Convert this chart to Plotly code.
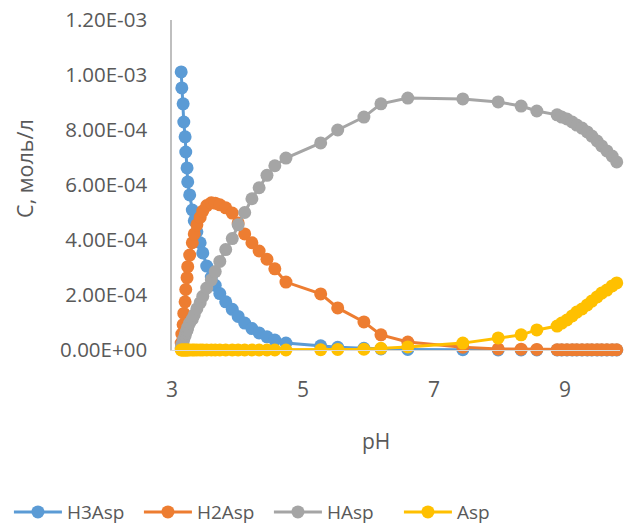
import plotly.graph_objects as go

# pH of each titration point (shared by all series)
pH = [3.14, 3.15, 3.17, 3.18, 3.20, 3.21, 3.23, 3.24, 3.27, 3.31,
      3.34, 3.38, 3.43, 3.47, 3.53, 3.60, 3.66, 3.73, 3.82, 3.92,
      4.01, 4.11, 4.22, 4.33, 4.45, 4.57, 4.74, 5.27, 5.53, 5.93,
      6.19, 6.60, 7.44, 7.98, 8.33, 8.57, 8.88, 8.95, 9.03, 9.11,
      9.18, 9.26, 9.34, 9.41, 9.49, 9.56, 9.64, 9.72, 9.79]

# concentrations in units of 1e-3 mol/L
H3Asp = [1.011, 0.953, 0.895, 0.829, 0.775, 0.720, 0.662, 0.611, 0.564, 0.509,
         0.470, 0.430, 0.390, 0.353, 0.305, 0.265, 0.235, 0.205, 0.175, 0.148,
         0.122, 0.098, 0.078, 0.062, 0.048, 0.036, 0.025, 0.015, 0.010, 0.006,
         0.004, 0.002, 0.001, 0.000, 0.000, 0.000, 0.000, 0.000, 0.000, 0.000,
         0.000, 0.000, 0.000, 0.000, 0.000, 0.000, 0.000, 0.000, 0.000]
H2Asp = [0.025, 0.058, 0.092, 0.133, 0.175, 0.220, 0.263, 0.303, 0.345, 0.390,
         0.422, 0.455, 0.482, 0.505, 0.525, 0.535, 0.534, 0.528, 0.517, 0.498,
         0.462, 0.422, 0.390, 0.360, 0.330, 0.295, 0.247, 0.204, 0.153, 0.102,
         0.055, 0.029, 0.010, 0.004, 0.003, 0.002, 0.001, 0.001, 0.001, 0.001,
         0.001, 0.001, 0.001, 0.001, 0.001, 0.001, 0.001, 0.001, 0.001]
HAsp = [0.008, 0.020, 0.030, 0.040, 0.052, 0.062, 0.072, 0.082, 0.098, 0.112,
        0.128, 0.150, 0.172, 0.195, 0.225, 0.255, 0.285, 0.322, 0.365, 0.405,
        0.455, 0.500, 0.550, 0.590, 0.635, 0.670, 0.698, 0.753, 0.800, 0.847,
        0.895, 0.916, 0.913, 0.902, 0.887, 0.869, 0.855, 0.847, 0.840, 0.829,
        0.818, 0.807, 0.793, 0.778, 0.760, 0.742, 0.724, 0.705, 0.684]
Asp = [0.000, 0.000, 0.000, 0.000, 0.000, 0.000, 0.000, 0.000, 0.000, 0.000,
       0.000, 0.000, 0.000, 0.000, 0.000, 0.000, 0.000, 0.000, 0.000, 0.000,
       0.000, 0.000, 0.000, 0.000, 0.000, 0.000, 0.000, 0.001, 0.002, 0.003,
       0.006, 0.011, 0.025, 0.044, 0.055, 0.073, 0.087, 0.098, 0.109, 0.124,
       0.138, 0.149, 0.164, 0.178, 0.193, 0.207, 0.218, 0.233, 0.244]
UNIT = 1e-3

series_names = ["H3Asp", "H2Asp", "HAsp", "Asp"]
series_values = [H3Asp, H2Asp, HAsp, Asp]
colors = ["#5B9BD5", "#ED7D31", "#A5A5A5", "#FFC000"]

x_ticks = [3, 5, 7, 9]
y_ticks = [0, 2e-4, 4e-4, 6e-4, 8e-4, 1e-3, 1.2e-3]
y_tick_labels = ["0.00E+00", "2.00E-04", "4.00E-04", "6.00E-04",
                 "8.00E-04", "1.00E-03", "1.20E-03"]

FONT = "Open Sans"
TXT = "#595959"

fig = go.Figure()
for name, vals, col in zip(series_names, series_values, colors):
    fig.add_trace(go.Scatter(
        x=pH, y=[v * UNIT for v in vals], name=name, mode="lines+markers",
        line=dict(color=col, width=3),
        marker=dict(color=col, size=13),
        cliponaxis=False,
    ))

fig.update_layout(
    width=625, height=528, autosize=False,
    margin=dict(l=172, r=5, t=20, b=178, autoexpand=False),
    paper_bgcolor="white", plot_bgcolor="white",
    font=dict(family=FONT, size=20, color=TXT),
    showlegend=True,
    legend=dict(orientation="h", xref="paper", yref="paper",
                x=-0.364, xanchor="left", y=-0.491, yanchor="middle",
                font=dict(family=FONT, size=19, color=TXT), itemwidth=48,
                entrywidth=67, entrywidthmode="pixels",
                traceorder="normal"),
    xaxis=dict(range=[3, 9.84], tickvals=x_ticks, showgrid=False, zeroline=False,
               showline=True, linecolor="#D9D9D9", linewidth=1, ticks="",
               tickfont=dict(family=FONT, size=21, color=TXT), ticklabelstandoff=21),
    yaxis=dict(range=[0, 1.2e-3], tickvals=y_ticks, ticktext=y_tick_labels,
               showgrid=False, zeroline=False, showline=True, linecolor="#BFBFBF",
               linewidth=1.5, ticks="", tickfont=dict(family=FONT, size=20.5, color=TXT),
               ticklabelstandoff=19),
    annotations=[
        dict(text="C, моль/л", textangle=-90, xref="paper", yref="paper",
             x=-0.328, y=0.549, xanchor="center", yanchor="middle", showarrow=False,
             font=dict(family=FONT, size=21.5, color=TXT)),
        dict(text="pH", xref="paper", yref="paper", x=0.455, y=-0.276,
             xanchor="center", yanchor="middle", showarrow=False,
             font=dict(family=FONT, size=21, color=TXT)),
    ],
)

fig.write_html("out.html")
